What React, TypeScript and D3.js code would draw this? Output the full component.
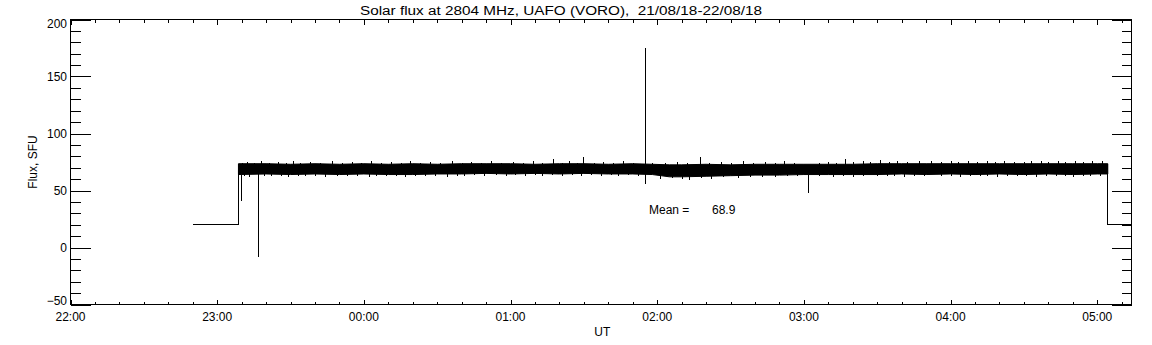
import React from "react";
import * as d3 from "d3";

// ---------- data (times are UT "HH:MM", night of 21/08/18 -> 22/08/18) ----------
const TITLE = "Solar flux at 2804 MHz, UAFO (VORO),  21/08/18-22/08/18";
const X_DOMAIN = ["22:00", "05:14"];
const X_TICKS = ["22:00", "23:00", "00:00", "01:00", "02:00", "03:00", "04:00", "05:00"];
const Y_TICKS = [-50, 0, 50, 100, 150, 200];
const MEAN = 68.9;

// calibration level before / after the observation
const preLevel = [["22:50.3", 20], ["23:08.7", 20]];
const postLevel = [["05:04.3", 20], ["05:14", 20]];

// envelope of the noisy flux band
const bandTimes = ["23:08.7", "23:20", "23:30", "23:40", "23:50", "00:00", "00:10", "00:20", "00:30", "00:40", "00:50", "01:00", "01:10", "01:20", "01:30", "01:40", "01:50", "01:58", "02:05", "02:10", "02:20", "02:30", "02:40", "02:50", "03:00", "03:10", "03:20", "03:30", "03:40", "03:50", "04:00", "04:10", "04:20", "04:30", "04:40", "04:50", "05:00", "05:04.3"];
const bandUpper = [73.5, 73.5, 73, 73.5, 73, 73.5, 73, 73.5, 73, 73.5, 73.5, 73.5, 73, 73.5, 73.5, 73, 73.5, 73, 72.5, 72.5, 73, 72.5, 73, 73, 73, 73, 73, 73.5, 73.5, 73.5, 73.5, 73.5, 73.5, 73.5, 73.5, 73.5, 73.5, 73.5];
const bandLower = [64, 64.5, 64, 64.5, 64, 64.5, 64, 64, 64.5, 64.5, 65, 64.5, 65, 64.5, 65, 64.5, 64.5, 64, 62, 62, 62.5, 63, 63.5, 63.5, 64, 64, 64, 64, 64.5, 64, 64.5, 64, 64.5, 64, 64.5, 64, 64.5, 64.5];

// noise peaks above the band
const upTimes = ["23:10", "23:12", "23:15", "23:18", "23:21", "23:25", "23:28", "23:31", "23:34", "23:38", "23:42", "23:47", "23:51", "23:55", "23:59", "00:03", "00:07", "00:11", "00:15", "00:19", "00:23", "00:27", "00:31", "00:36", "00:40", "00:44", "00:48", "00:52", "00:56", "01:01", "01:05", "01:09", "01:13", "01:17.4", "01:21", "01:24", "01:27", "01:29.7", "01:34", "01:38", "01:42", "01:46", "01:50", "01:58", "02:03", "02:08", "02:12", "02:17.3", "02:21", "02:26", "02:30", "02:35", "02:39", "02:44", "02:48", "02:52", "02:56", "03:06", "03:10", "03:13", "03:16.9", "03:20", "03:24", "03:27", "03:31.2", "03:35", "03:38", "03:42", "03:47", "03:52", "03:56", "04:00", "04:03", "04:07", "04:11", "04:15", "04:18", "04:22", "04:26", "04:30", "04:33", "04:37", "04:40", "04:44", "04:47", "04:51", "04:54", "04:58", "05:02"];
const upValues = [74.5, 75, 74.5, 75.5, 74.5, 75, 74.5, 76, 74.5, 75, 74.5, 75.5, 74.5, 75, 74.5, 76, 74.5, 75, 74.5, 75.5, 74.5, 75, 74.5, 76, 74.5, 75, 74.5, 75.5, 74.5, 75, 74.5, 75.5, 74.5, 78, 74.5, 76, 74.5, 79, 74.5, 75, 74.5, 75.5, 74.5, 74.5, 74.5, 75, 74.5, 79.5, 74.5, 75, 74.5, 75.5, 74.5, 75, 74.5, 75.5, 74.5, 74.5, 75, 74.5, 77.5, 75, 76, 75, 77, 75, 76, 75, 75.5, 76, 75, 75.5, 75, 76, 75, 75.5, 75, 76, 75, 75, 75.5, 76, 75, 75.5, 75, 76, 75, 75.5, 76];
// noise dips below the band
const downTimes = ["23:11", "23:13", "23:19", "23:22", "23:26", "23:29", "23:33", "23:36", "23:40", "23:44", "23:49", "23:53", "23:57", "00:02", "00:05", "00:09", "00:13", "00:17", "00:21", "00:25", "00:29", "00:34", "00:38", "00:41", "00:45", "00:49", "00:54", "00:58", "01:02", "01:06", "01:10", "01:13", "01:17", "01:21", "01:25", "01:29", "01:33", "01:37", "01:41", "01:44", "01:48", "01:52", "02:01", "02:06", "02:10", "02:13", "02:18", "02:22", "02:27", "02:33", "02:38", "02:43", "02:48", "02:53", "02:57", "03:06", "03:12", "03:16", "03:20", "03:24", "03:30", "03:34", "03:37", "03:41", "03:45", "03:49", "03:56", "04:00", "04:04", "04:08", "04:12", "04:15", "04:19", "04:23", "04:27", "04:31", "04:35", "04:39", "04:43", "04:47", "04:50", "04:54", "04:57", "05:01"];
const downValues = [63, 62, 63, 62.5, 63, 62, 63, 62.5, 63, 62, 63, 62.5, 63, 62, 63, 62.5, 63, 62, 63, 62.5, 63, 62, 63, 62.5, 63.5, 63, 63.5, 62.5, 63.5, 63, 63.5, 62.5, 63.5, 63, 63.5, 62.5, 63.5, 63, 63.5, 62.5, 63.5, 63, 60.5, 61, 60.5, 59.5, 61, 60.5, 61.5, 61, 62, 62, 61.5, 62.5, 62.5, 63, 62, 63, 62, 63, 63, 62.5, 63, 62, 63, 63, 62.5, 63, 62, 63, 62.5, 63, 62, 63, 62.5, 63, 62, 63, 62.5, 63, 62, 63, 62.5, 63];

// isolated spikes: time, from, to
const spikeTimes = ["23:09.9", "23:16.5", "01:54.8", "03:01.8"];
const spikeFrom = [64, 73, 56, 64];
const spikeTo = [41, -8, 175, 48];

// ---------- helpers ----------
function toHours(s: string): number {
  const [h, m] = s.split(":");
  let hh = parseInt(h, 10);
  const mm = parseFloat(m);
  if (hh < 12) hh += 24;
  return hh - 22 + mm / 60;
}

const W = 1152;
const H = 345;
const L = 70.5, R = 1131.5, T = 19.5, B = 304.5;
const FONT = "'Liberation Sans', Arial, sans-serif";

export default function App() {
  const x = d3.scaleLinear().domain(X_DOMAIN.map(toHours)).range([L, R]);
  const y = d3.scaleLinear().domain([-50, 200]).range([B, T]);

  const bandData = bandTimes.map((t, i) => ({ t: toHours(t), u: bandUpper[i], l: bandLower[i] }));
  const area = d3
    .area<{ t: number; u: number; l: number }>()
    .x((d) => x(d.t))
    .y0((d) => y(d.l))
    .y1((d) => y(d.u));

  const line = d3.line<[number, number]>().x((d) => x(d[0])).y((d) => y(d[1]));
  const preLine = line([
    ...preLevel.map((d) => [toHours(d[0] as string), d[1] as number] as [number, number]),
    [toHours(preLevel[1][0] as string), bandUpper[0]],
  ]);
  const postLine = line([
    [toHours(postLevel[0][0] as string), bandUpper[bandUpper.length - 1]],
    ...postLevel.map((d) => [toHours(d[0] as string), d[1] as number] as [number, number]),
  ]);

  const xMinor: number[] = [];
  const x0 = toHours(X_DOMAIN[0]);
  const x1 = toHours(X_DOMAIN[1]);
  for (let m = 0; x0 + m / 60 <= x1 + 1e-9; m += 10) xMinor.push(x0 + m / 60);
  const yMinor = d3.range(-50, 201, 10);

  const majorX = X_TICKS.map(toHours);
  const px = (t: string) => Math.round(x(toHours(t))) + 0.5;

  return (
    <svg
      width={W}
      height={H}
      style={{ position: "absolute", left: 0, top: 0, background: "#fff" }}
      fontFamily={FONT}
    >
      <rect x={0} y={0} width={W} height={H} fill="#fff" />
      {/* title */}
      <text x={360} y={15} fontSize={12} textLength={402} lengthAdjust="spacingAndGlyphs" fill="#000" xmlSpace="preserve" style={{ whiteSpace: "pre" }}>
        {TITLE}
      </text>

      {/* data */}
      <g>
        <path d={area(bandData) || ""} fill="#000" stroke="#000" strokeWidth={1} />
        <path d={preLine || ""} fill="none" stroke="#000" strokeWidth={1} shapeRendering="crispEdges" />
        <path d={postLine || ""} fill="none" stroke="#000" strokeWidth={1} shapeRendering="crispEdges" />
        <g stroke="#000" strokeWidth={1} shapeRendering="crispEdges">
          {upTimes.map((t, i) => (
            <line key={"u" + i} x1={px(t)} x2={px(t)} y1={y(72)} y2={y(upValues[i])} />
          ))}
          {downTimes.map((t, i) => (
            <line key={"d" + i} x1={px(t)} x2={px(t)} y1={y(65)} y2={y(downValues[i])} />
          ))}
          {spikeTimes.map((t, i) => (
            <line key={"s" + i} x1={px(t)} x2={px(t)} y1={y(spikeFrom[i])} y2={y(spikeTo[i])} />
          ))}
        </g>
      </g>

      {/* frame */}
      <rect x={L} y={T} width={R - L} height={B - T} fill="none" stroke="#000" strokeWidth={1} shapeRendering="crispEdges" />

      {/* ticks */}
      <g stroke="#000" strokeWidth={1} shapeRendering="crispEdges">
        {xMinor.map((v, i) => {
          const isMajor = majorX.some((m) => Math.abs(m - v) < 1e-6);
          const len = isMajor ? 5 : 3;
          const p = Math.round(x(v)) + 0.5;
          return (
            <g key={"xm" + i}>
              <line x1={p} x2={p} y1={B} y2={B - len} />
              <line x1={p} x2={p} y1={T} y2={T + len} />
            </g>
          );
        })}
        {yMinor.map((v, i) => {
          const isMajor = v % 50 === 0;
          const len = isMajor ? 20 : 10;
          const py = Math.round(y(v)) + 0.5;
          return (
            <g key={"ym" + i}>
              <line x1={L} x2={L + len} y1={py} y2={py} />
              <line x1={R} x2={R - len} y1={py} y2={py} />
            </g>
          );
        })}
      </g>

      {/* tick labels */}
      <g fontSize={12} fill="#000">
        {X_TICKS.map((t) => (
          <text key={t} x={x(toHours(t))} y={321} textAnchor="middle">
            {t}
          </text>
        ))}
        {Y_TICKS.map((v) => {
          const cy = Math.min(Math.max(y(v), 23), 300.5);
          return (
            <text key={v} x={67} y={cy + 4.5} textAnchor="end">
              {v < 0 ? "\u2212" + Math.abs(v) : String(v)}
            </text>
          );
        })}
      </g>

      {/* axis titles */}
      <text x={x(toHours("02:00")) - 55} y={336} fontSize={12} textAnchor="middle" fill="#000">
        UT
      </text>
      <text transform={`translate(37, ${(T + B) / 2}) rotate(-90)`} fontSize={12} textAnchor="middle" fill="#000">
        Flux, SFU
      </text>

      {/* mean annotation */}
      <text x={649} y={214} fontSize={12} fill="#000">
        Mean =
      </text>
      <text x={712} y={214} fontSize={12} fill="#000">
        {MEAN.toFixed(1)}
      </text>
    </svg>
  );
}
